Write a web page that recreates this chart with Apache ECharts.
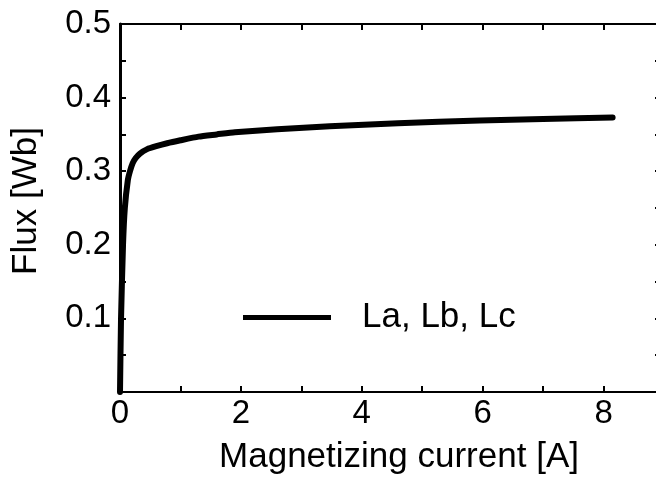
<!DOCTYPE html>
<html>
<head>
<meta charset="utf-8">
<style>
  html, body { margin: 0; padding: 0; background: #fff; }
  #chart { width: 656px; height: 481px; }
</style>
<script src="https://cdn.jsdelivr.net/npm/echarts@6/dist/echarts.min.js"></script>
</head>
<body>
<div id="chart"></div>
<script>
// Magnetizing curve of the cores La, Lb, Lc
const currentA = [0, 0.017, 0.05, 0.08, 0.13, 0.165, 0.21, 0.26, 0.33, 0.45, 0.6, 0.78, 1.0, 1.3, 1.6, 1.9, 2.6, 3.47, 4.6, 5.95, 7.0, 8.15];
const fluxWb   = [0, 0.1, 0.2, 0.25, 0.288, 0.30, 0.311, 0.318, 0.324, 0.33, 0.334, 0.338, 0.342, 0.347, 0.350, 0.353, 0.357, 0.361, 0.365, 0.369, 0.371, 0.373];
const seriesName = 'La, Lb, Lc';
const xTitle = 'Magnetizing current [A]';
const yTitle = 'Flux [Wb]';

const FONT = '"Liberation Sans", Arial, Helvetica, sans-serif';
const chart = echarts.init(document.getElementById('chart'), null, { renderer: 'canvas' });

const axisLine = (w) => ({ show: true, onZero: false, lineStyle: { color: '#000', width: w } });

chart.setOption({
  animation: false,
  backgroundColor: '#fff',
  grid: { left: 120, top: 24, width: 544, height: 368, containLabel: false, outerBoundsMode: 'none' },
  legend: {
    left: 238, top: 295,
    icon: 'rect', itemWidth: 88, itemHeight: 5,
    textStyle: { fontFamily: FONT, fontSize: 35, color: '#000', padding: [0, 0, 0, 26] },
    data: [seriesName]
  },
  xAxis: [{
    type: 'value', min: 0, max: 9, interval: 1, position: 'bottom',
    name: xTitle, nameLocation: 'middle', nameGap: 48,
    nameTextStyle: { fontFamily: FONT, fontSize: 35, color: '#000', padding: [0, 0, 0, 14] },
    axisLine: axisLine(2),
    axisTick: { show: true, inside: true, length: 6, lineStyle: { color: '#000', width: 2 } },
    axisLabel: {
      fontFamily: FONT, fontSize: 33, color: '#000', margin: 5,
      formatter: v => (Math.round(v) % 2 === 0 ? String(v) : '')
    },
    splitLine: { show: false }
  }, {
    type: 'value', min: 0, max: 9, interval: 1, position: 'top',
    axisLine: axisLine(2),
    axisTick: { show: true, inside: true, length: 6, lineStyle: { color: '#000', width: 2 } },
    axisLabel: { show: false },
    splitLine: { show: false }
  }],
  yAxis: [{
    type: 'value', min: 0, max: 0.5, interval: 0.05, position: 'left',
    name: yTitle, nameLocation: 'middle', nameGap: 76, nameRotate: 90,
    nameTextStyle: { fontFamily: FONT, fontSize: 35, color: '#000', padding: [0, 0, 0, 14] },
    axisLine: axisLine(3),
    axisTick: { show: true, inside: true, length: 6, lineStyle: { color: '#000', width: 2 } },
    axisLabel: {
      fontFamily: FONT, fontSize: 33, color: '#000', margin: 9, padding: [6, 0, 0, 0],
      formatter: v => {
        const k = Math.round(v * 100);
        return (k !== 0 && k % 10 === 0) ? (k / 100).toFixed(1) : '';
      }
    },
    splitLine: { show: false }
  }, {
    type: 'value', min: 0, max: 0.5, interval: 0.05, position: 'right',
    axisLine: axisLine(2),
    axisTick: { show: true, inside: true, length: 9, lineStyle: { color: '#000', width: 2 } },
    axisLabel: { show: false },
    splitLine: { show: false }
  }],
  series: [{
    name: seriesName,
    type: 'line',
    xAxisIndex: 0, yAxisIndex: 0,
    data: currentA.map((x, i) => [x, fluxWb[i]]),
    showSymbol: false, symbol: 'none',
    smooth: 0.2,
    itemStyle: { color: '#000' },
    lineStyle: { color: '#000', width: 6, cap: 'round', join: 'round' }
  }]
});
</script>
</body>
</html>
